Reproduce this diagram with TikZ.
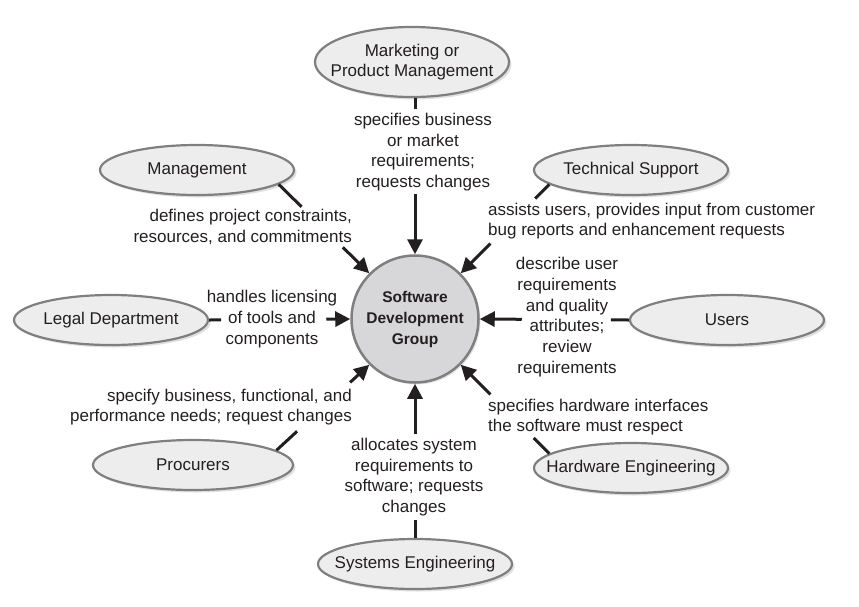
\documentclass[tikz,border=0pt]{standalone}
\usepackage{fontspec}
\setmainfont{Liberation Sans}
\usetikzlibrary{arrows.meta, shapes.geometric, shadows, calc}

\definecolor{rimgray}{HTML}{7F7F7F}
\definecolor{stakefill}{HTML}{EDEDEE}
\definecolor{corefill}{HTML}{D7D7D9}
\definecolor{inkblack}{HTML}{231F20}

\tikzset{
  stake/.style={ellipse, draw=rimgray, fill=stakefill, line width=2.2pt,
    inner xsep=-30pt, inner ysep=0pt, minimum width=194pt, minimum height=50pt,
    align=center, drop shadow={opacity=1, fill=black!12, shadow xshift=2.5pt, shadow yshift=-2.5pt}},
  core/.style={circle, draw=rimgray, fill=corefill, line width=2.5pt,
    minimum size=127pt, inner sep=0pt, align=center,
    font=\fontsize{15.5}{21}\selectfont\bfseries,
    drop shadow={opacity=1, fill=black!10, shadow xshift=2pt, shadow yshift=-2pt}},
  lbl/.style={align=center, inner sep=0pt},
  link/.style={line width=3pt, draw=inkblack},
  feed/.style={link, -{Triangle[length=15pt,width=15pt]}}
}

\begin{document}
\begin{tikzpicture}[x=1pt, y=-1pt, font=\fontsize{17}{20.7}\selectfont, text=inkblack]
    \useasboundingbox (0,0) rectangle (859,606);

    % the group in the middle
    \node[core] (sdg) at (415,319) {Software\\Development\\Group};

    % stakeholders
    \node[stake, minimum height=70pt] (mkt) at (412,62) {Marketing or\\Product Management};
    \node[stake] (mgmt) at (197,170) {Management};
    \node[stake] (tech) at (631,170) {Technical Support};
    \node[stake] (legal) at (111,320) {Legal Department};
    \node[stake] (users) at (727,320) {Users};
    \node[stake, minimum width=200pt] (proc) at (193,465) {Procurers};
    \node[stake] (hw) at (631,468) {Hardware Engineering};
    \node[stake] (sys) at (415,564) {Systems Engineering};

    % what each one brings
    \node[lbl] (mkt-lbl) at (423,152) {specifies business\\or market\\requirements;\\requests changes};
    \node[lbl, anchor=east, align=right] (mgmt-lbl) at (352,227) {defines project constraints,\\resources, and commitments};
    \node[lbl, anchor=west, align=left] (tech-lbl) at (488,221) {assists users, provides input from customer\\bug reports and enhancement requests};
    \node[lbl] (legal-lbl) at (272,319) {handles licensing\\of tools and\\components};
    \node[lbl] (users-lbl) at (567,317) {describe user\\requirements\\and quality\\attributes;\\review\\requirements};
    \node[lbl, anchor=east, align=right] (proc-lbl) at (352,407) {specify business, functional, and\\performance needs; request changes};
    \node[lbl, anchor=west, align=left] (hw-lbl) at (488,417) {specifies hardware interfaces\\the software must respect};
    \node[lbl] (sys-lbl) at (414,477) {allocates system\\requirements to\\software; requests\\changes};

    % connectors, broken around the labels
    \draw[link] (mkt.south -| sdg) -- ($(mkt.south -| sdg)!11pt!(sdg.north)$);
    \draw[feed] ($(sdg.north)!60pt!(mkt.south -| sdg)$) -- (sdg.north);

    \draw[link] (mgmt.-10) -- ($(mgmt.-10)!32pt!(sdg.135)$);
    \draw[feed] ($(sdg.135)!37pt!(mgmt.-10)$) -- (sdg.135);

    \draw[link] (tech.190) -- ($(tech.190)!20pt!(sdg.45)$);
    \draw[feed] ($(sdg.45)!42pt!(tech.190)$) -- (sdg.45);

    \draw[link] (legal.east) -- ($(legal.east)!12pt!(sdg.west)$);
    \draw[feed] ($(sdg.west)!24pt!(legal.east)$) -- (sdg.west);

    \draw[link] (users.west) -- ($(users.west)!18pt!(sdg.east)$);
    \draw[feed] ($(sdg.east)!42pt!(users.west)$) -- (sdg.east);

    \draw[link] (proc.10) -- ($(proc.10)!28pt!(sdg.225)$);
    \draw[feed] ($(sdg.225)!26pt!(proc.10)$) -- (sdg.225);

    \draw[link] (hw.170) -- ($(hw.170)!22pt!(sdg.-45)$);
    \draw[feed] ($(sdg.-45)!42pt!(hw.170)$) -- (sdg.-45);

    \draw[link] (sys.north -| sdg) -- ($(sys.north -| sdg)!18pt!(sdg.south)$);
    \draw[feed] ($(sdg.south)!50pt!(sys.north -| sdg)$) -- (sdg.south);
\end{tikzpicture}
\end{document}
